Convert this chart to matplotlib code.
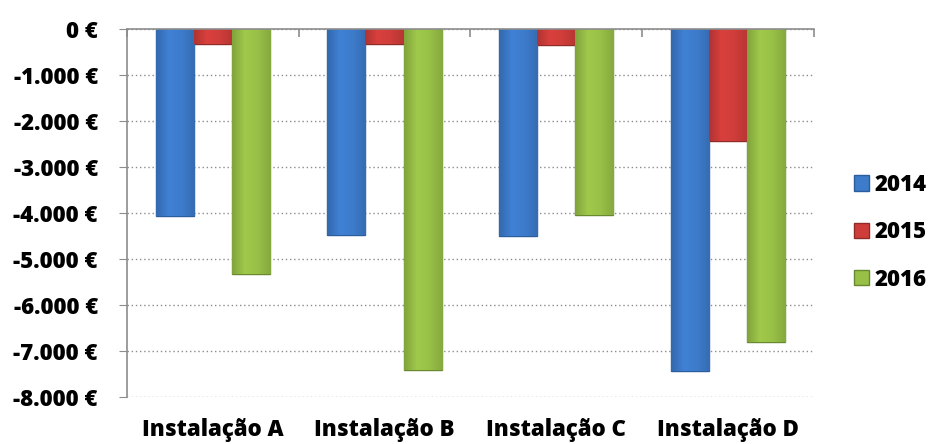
import matplotlib
matplotlib.use("Agg")
import matplotlib.pyplot as plt
import numpy as np
from matplotlib.colors import LinearSegmentedColormap, to_rgb
from matplotlib.ticker import FuncFormatter, MultipleLocator

plt.rcParams["font.family"] = ["Open Sans", "DejaVu Sans"]
plt.rcParams["font.weight"] = "heavy"

categories = ["Instalação A", "Instalação B", "Instalação C", "Instalação D"]
years = ["2014", "2015", "2016"]
v2014 = [-4060, -4480, -4490, -7440]
v2015 = [-330, -330, -350, -2430]
v2016 = [-5330, -7420, -4050, -6800]

colors = ["#3d7bcb", "#cf3d3a", "#98c047"]
edges = ["#2b5c9c", "#8f2b29", "#68892f"]


def shade(c, f):
    r = np.array(to_rgb(c))
    return tuple(np.clip(r * f, 0, 1))


fig = plt.figure(figsize=(9.3, 4.44), dpi=100)
ax = fig.add_axes([0.1366, 0.106, 0.7384, 0.8287])

x = np.arange(len(categories))
w = 0.222
grad = np.linspace(0, 1, 64).reshape(1, -1)
for i, (vals, name) in enumerate(zip([v2014, v2015, v2016], years)):
    bars = ax.bar(x + (i - 1) * w, vals, width=w, color=colors[i],
                  edgecolor=edges[i], linewidth=1.0, label=name, zorder=3)
    # soft horizontal shading to mimic the bevelled bars
    cmap = LinearSegmentedColormap.from_list(
        "b%d" % i, [shade(colors[i], 0.85), shade(colors[i], 1.05),
                    colors[i], shade(colors[i], 0.88)])
    for b in bars:
        x0, y0 = b.get_x(), b.get_y()
        im = ax.imshow(grad, cmap=cmap, aspect="auto", zorder=3.5,
                       extent=(x0, x0 + b.get_width(), y0 + b.get_height(), y0))
        im.set_clip_path(b)

ax.set_xlim(-0.5, 3.5)
ax.set_ylim(-8000, 0)
ax.yaxis.set_major_locator(MultipleLocator(1000))
ax.yaxis.set_major_formatter(FuncFormatter(
    lambda v, p: f"{int(v):,} €".replace(",", ".")))
ax.grid(axis="y", linestyle=(0, (1, 2)), color="#8c8c8c", linewidth=1, zorder=0)

for s in ["right", "bottom"]:
    ax.spines[s].set_visible(False)
ax.spines["left"].set_color("#8c8c8c")
ax.spines["top"].set_color("#8c8c8c")
ax.spines["left"].set_linewidth(1.2)
ax.spines["top"].set_linewidth(1.2)
ax.spines["top"].set_zorder(5)

fs = 16
ax.tick_params(axis="y", length=6, color="#8c8c8c", labelsize=fs, pad=15)
ax.set_xticks(x)
ax.set_xticklabels(categories, fontsize=fs)
ax.tick_params(axis="x", length=0, pad=15)

top = ax.secondary_xaxis("top")
top.set_xticks(np.arange(-0.5, 4, 1))
top.tick_params(direction="in", length=6, color="#8c8c8c", labeltop=False, width=1.2)
top.spines["top"].set_visible(False)

fig.legend(*ax.get_legend_handles_labels(), loc="center left",
           bbox_to_anchor=(0.918, 0.477), frameon=False,
           fontsize=fs, handlelength=0.68, handleheight=0.68, handletextpad=0.25,
           labelspacing=1.05, borderaxespad=0, borderpad=0)

fig.savefig("out.png", dpi=100)
